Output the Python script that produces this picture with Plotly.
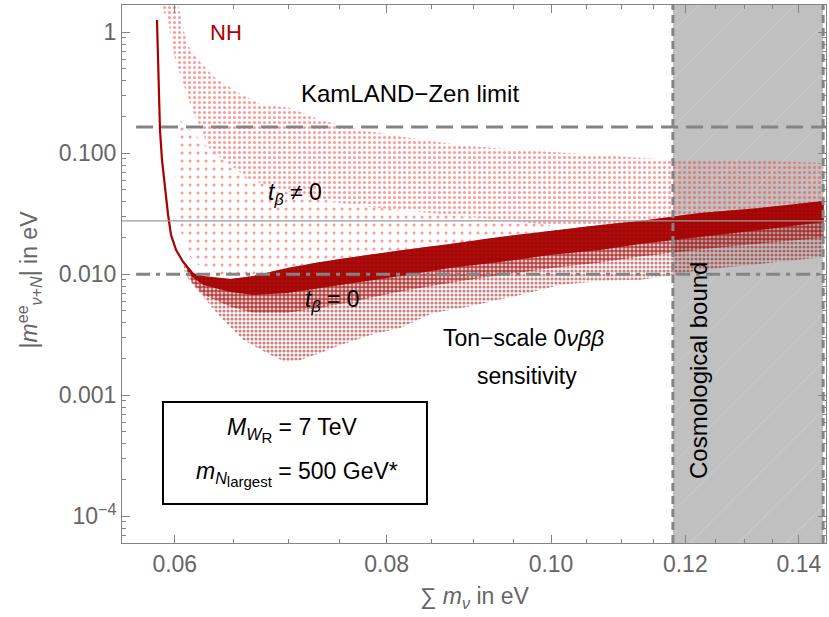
import plotly.graph_objects as go

# ---------------- data ----------------
# left arm of the t_beta = 0 points (minimal sum of masses)
edge_x = [0.05857, 0.05865, 0.05873, 0.05881, 0.05897, 0.05921, 0.05946, 0.05970, 0.06011, 0.06069, 0.06144, 0.06211]
edge_y = [1.264, 0.5903, 0.2757, 0.1558, 0.08805, 0.04973, 0.03091, 0.02113, 0.01588, 0.01264, 0.01025, 0.008973]

# t_beta = 0 cloud: upper and lower envelope
dark_top_x = [0.06069, 0.06144, 0.06237, 0.06470, 0.06676, 0.06992, 0.07313, 0.07650, 0.08183, 0.08717, 0.09331, 0.09986, 0.10689, 0.11287, 0.12242, 0.13282, 0.1448]
dark_top_y = [0.01264, 0.01025, 0.009683, 0.009145, 0.009683, 0.01127, 0.01264, 0.01390, 0.01588, 0.01780, 0.02033, 0.02279, 0.02555, 0.02757, 0.03210, 0.03531, 0.04034]
dark_bot_x = [0.1448, 0.13282, 0.12242, 0.11784, 0.11287, 0.10689, 0.10123, 0.09588, 0.08923, 0.08519, 0.08150, 0.07827, 0.07515, 0.07313, 0.07117, 0.06974, 0.06832, 0.06586, 0.06383, 0.06186, 0.06086]
dark_bot_y = [0.01390, 0.01217, 0.01085, 0.009867, 0.008973, 0.008804, 0.008158, 0.006745, 0.005368, 0.004787, 0.003598, 0.003150, 0.002603, 0.002237, 0.001957, 0.001884, 0.002153, 0.002864, 0.004436, 0.007419, 0.009867]
# denser middle part of the t_beta = 0 cloud (lower edge)
mid_bot_x = [0.1448, 0.13282, 0.12242, 0.11287, 0.10689, 0.09986, 0.09331, 0.08717, 0.08150, 0.07650, 0.07313, 0.06992, 0.06676, 0.06470, 0.06237, 0.06144]
mid_bot_y = [0.0200, 0.0180, 0.0160, 0.0140, 0.0125, 0.0112, 0.0098, 0.0085, 0.0072, 0.0060, 0.0053, 0.0048, 0.0048, 0.0054, 0.0068, 0.0085]
# dense core of the t_beta = 0 cloud (lower edge)
core_bot_x = [0.1448, 0.13282, 0.12242, 0.11287, 0.10689, 0.09986, 0.09331, 0.08717, 0.08150, 0.07650, 0.07313, 0.06992, 0.06676, 0.06470, 0.06237, 0.06144]
core_bot_y = [0.02705, 0.02323, 0.02033, 0.01780, 0.01588, 0.01443, 0.01264, 0.01127, 0.009683, 0.008475, 0.007702, 0.007008, 0.006745, 0.007142, 0.008158, 0.009500]

# t_beta != 0 cloud: main body
light_x = [0.05881, 0.06028, 0.06103, 0.06211, 0.06339, 0.06533, 0.06740, 0.07021, 0.07313, 0.07722, 0.08262, 0.08837, 0.09588, 0.10689, 0.11784, 0.12926, 0.1448,
           0.1448, 0.12242, 0.11287, 0.10689, 0.09986, 0.09331, 0.08717, 0.08150, 0.07617, 0.07117, 0.06649, 0.06296, 0.06144, 0.06003, 0.05946]
light_y = [1.681, 1.681, 0.7853, 0.5682, 0.4190, 0.3210, 0.2555, 0.2368, 0.1884, 0.1558, 0.1338, 0.1171, 0.1065, 0.09681, 0.08805, 0.08805, 0.08316,
           0.03738, 0.03091, 0.02705, 0.02555, 0.02555, 0.02811, 0.03091, 0.03400, 0.03738, 0.04522, 0.06017, 0.1065, 0.2279, 0.5903, 1.264]
# t_beta != 0 cloud: sparse lower part
sparse_x = [0.06044, 0.06296, 0.06649, 0.07117, 0.07617, 0.08150, 0.08717, 0.09331, 0.09986,
            0.09986, 0.09331, 0.08717, 0.08183, 0.07650, 0.07313, 0.06992, 0.06676, 0.06383, 0.06144, 0.06044, 0.06003]
sparse_y = [0.1884, 0.1065, 0.06017, 0.04522, 0.03738, 0.03400, 0.03091, 0.02811, 0.02555,
            0.02279, 0.02033, 0.01780, 0.01588, 0.01390, 0.01264, 0.01127, 0.01006, 0.009867, 0.01264, 0.02323, 0.06017]

kamland_limit = 0.165
tonscale_limit = 0.010
ref_line = 0.0276
cosmo_bound = 0.118
x_max = 0.1447

x_ticks = [0.06, 0.08, 0.10, 0.12, 0.14]
x_ticktext = ["0.06", "0.08", "0.10", "0.12", "0.14"]
x_minor = [0.065, 0.07, 0.075, 0.085, 0.09, 0.095, 0.105, 0.11, 0.115, 0.125, 0.13, 0.135]
y_ticks = [1, 0.1, 0.01, 0.001, 0.0001]
y_ticktext = ["1", "0.100", "0.010", "0.001", "10<sup>\u22124</sup>"]
y_minor = [m * 10.0 ** e for e in range(-5, 1) for m in range(2, 10)]

# ---------------- figure ----------------
GRAY = "#848484"
TXT = "#666666"
FONT = "Liberation Sans"

fig = go.Figure()

# hatch in the excluded region
fig.add_trace(go.Scatter(
    x=[cosmo_bound, x_max, x_max, cosmo_bound], y=[1e-5, 1e-5, 10, 10],
    fill="toself", mode="none", fillcolor="rgba(0,0,0,0)",
    fillpattern=dict(shape="/", fgcolor="rgba(255,255,255,0.35)", bgcolor="rgba(0,0,0,0)", size=34, solidity=0.03),
    hoverinfo="skip", showlegend=False))

# light cloud (t_beta != 0)
fig.add_trace(go.Scatter(
    x=light_x, y=light_y, fill="toself", mode="none", fillcolor="rgba(0,0,0,0)",
    fillpattern=dict(shape=".", fgcolor="#ff3838", bgcolor="rgba(0,0,0,0)", size=5, solidity=0.3),
    hoverinfo="skip", showlegend=False))
fig.add_trace(go.Scatter(
    x=sparse_x, y=sparse_y, fill="toself", mode="none", fillcolor="rgba(0,0,0,0)",
    fillpattern=dict(shape=".", fgcolor="#ff3838", bgcolor="rgba(0,0,0,0)", size=8, solidity=0.12),
    hoverinfo="skip", showlegend=False))

# dark cloud (t_beta = 0)
fig.add_trace(go.Scatter(
    x=dark_top_x + dark_bot_x, y=dark_top_y + dark_bot_y, fill="toself", mode="none",
    fillcolor="rgba(0,0,0,0)",
    fillpattern=dict(shape=".", fgcolor="#980000", bgcolor="rgba(0,0,0,0)", size=4, solidity=0.5),
    hoverinfo="skip", showlegend=False))
fig.add_trace(go.Scatter(
    x=dark_top_x + mid_bot_x, y=dark_top_y + mid_bot_y, fill="toself", mode="none",
    fillcolor="rgba(0,0,0,0)",
    fillpattern=dict(shape=".", fgcolor="#a00000", bgcolor="rgba(0,0,0,0)", size=4, solidity=0.8),
    hoverinfo="skip", showlegend=False))
fig.add_trace(go.Scatter(
    x=dark_top_x + core_bot_x, y=dark_top_y + core_bot_y, fill="toself", mode="none",
    fillcolor="rgba(165,0,0,0.92)",
    hoverinfo="skip", showlegend=False))
fig.add_trace(go.Scatter(
    x=edge_x, y=edge_y, mode="lines", line=dict(color="#a80000", width=2.2),
    hoverinfo="skip", showlegend=False))

shapes = [
    dict(type="rect", xref="x", yref="paper", x0=cosmo_bound, x1=x_max, y0=0, y1=1,
         fillcolor="#c0c0c0", line=dict(width=0), layer="below"),
    dict(type="line", xref="x", yref="paper", x0=cosmo_bound, x1=cosmo_bound, y0=0, y1=1,
         line=dict(color=GRAY, width=3, dash="8px,5px")),
    dict(type="line", xref="x", yref="paper", x0=x_max, x1=x_max, y0=0, y1=1,
         line=dict(color=GRAY, width=3, dash="8px,5px")),
    dict(type="line", xref="paper", yref="y", x0=0.02, x1=1, y0=kamland_limit, y1=kamland_limit,
         line=dict(color=GRAY, width=3, dash="17px,8px")),
    dict(type="line", xref="paper", yref="y", x0=0.02, x1=1, y0=tonscale_limit, y1=tonscale_limit,
         line=dict(color=GRAY, width=3, dash="14px,6px,4px,6px")),
    dict(type="line", xref="paper", yref="y", x0=0, x1=1, y0=ref_line, y1=ref_line,
         line=dict(color="#9a9a9a", width=1.2)),
    dict(type="rect", xref="paper", yref="paper", x0=0.0582, x1=0.4332, y0=0.0725, y1=0.2621,
         fillcolor="white", line=dict(color="black", width=2)),
]

def ann(text, x, y, size=23, color="black", angle=0):
    return dict(text=text, x=x, y=y, xref="paper", yref="paper", showarrow=False,
                font=dict(family=FONT, size=size, color=color), textangle=angle,
                xanchor="center", yanchor="middle")

annotations = [
    ann("NH", 0.1480, 0.9498, 22, "#b00000"),
    ann("KamLAND\u2212Zen limit", 0.4091, 0.8346, 24),
    ann("<i>t</i><sub><i>\u03b2</i></sub> \u2260 0", 0.2457, 0.650, 23),
    ann("<i>t</i><sub><i>\u03b2</i></sub> = 0", 0.2983, 0.450, 23),
    ann("Ton\u2212scale 0<i>\u03bd\u03b2\u03b2</i>", 0.5710, 0.3810, 23),
    ann("sensitivity", 0.5753, 0.3104, 23),
    ann("<i>M</i><sub><i>W</i><sub><span style='font-size:15px'>R</span></sub></sub> = 7 TeV", 0.2415, 0.2100, 23),
    ann("<i>m</i><sub><i>N</i><sub><span style='font-size:15px'>largest</span></sub></sub> = 500 GeV*", 0.2486, 0.1290, 23),
    ann("Cosmological bound", 0.8182, 0.3197, 24, "black", -90),
    ann("|<i>m</i><sup>ee</sup><sub><i>\u03bd</i>+<i>N</i></sub>| in eV", -0.132, 0.49, 23, TXT, -90),
    ann("\u2211 <i>m</i><sub><i>\u03bd</i></sub> in eV", 0.5, -0.102, 23, TXT),
]

axis_common = dict(type="log", showgrid=False, zeroline=False, showline=True, linecolor=GRAY, linewidth=1,
                   ticks="inside", ticklen=8, tickcolor=GRAY, mirror="allticks",
                   tickfont=dict(family=FONT, size=23, color=TXT))

fig.update_layout(
    width=829, height=617,
    margin=dict(l=122, r=3, t=5, b=74),
    paper_bgcolor="white", plot_bgcolor="white",
    showlegend=False,
    shapes=shapes, annotations=annotations,
    xaxis=dict(axis_common, range=[-1.25295, -0.83785], tickmode="array", tickvals=x_ticks, ticktext=x_ticktext,
               minor=dict(tickmode="array", tickvals=x_minor, ticks="inside", ticklen=4, tickcolor=GRAY)),
    yaxis=dict(axis_common, range=[-4.2207, 0.2256], tickmode="array", tickvals=y_ticks, ticktext=y_ticktext,
               minor=dict(tickmode="array", tickvals=y_minor, ticks="inside", ticklen=4, tickcolor=GRAY)),
)

fig.write_html("out.html", config={"displayModeBar": False},
               post_script="document.body.style.margin='0';")
